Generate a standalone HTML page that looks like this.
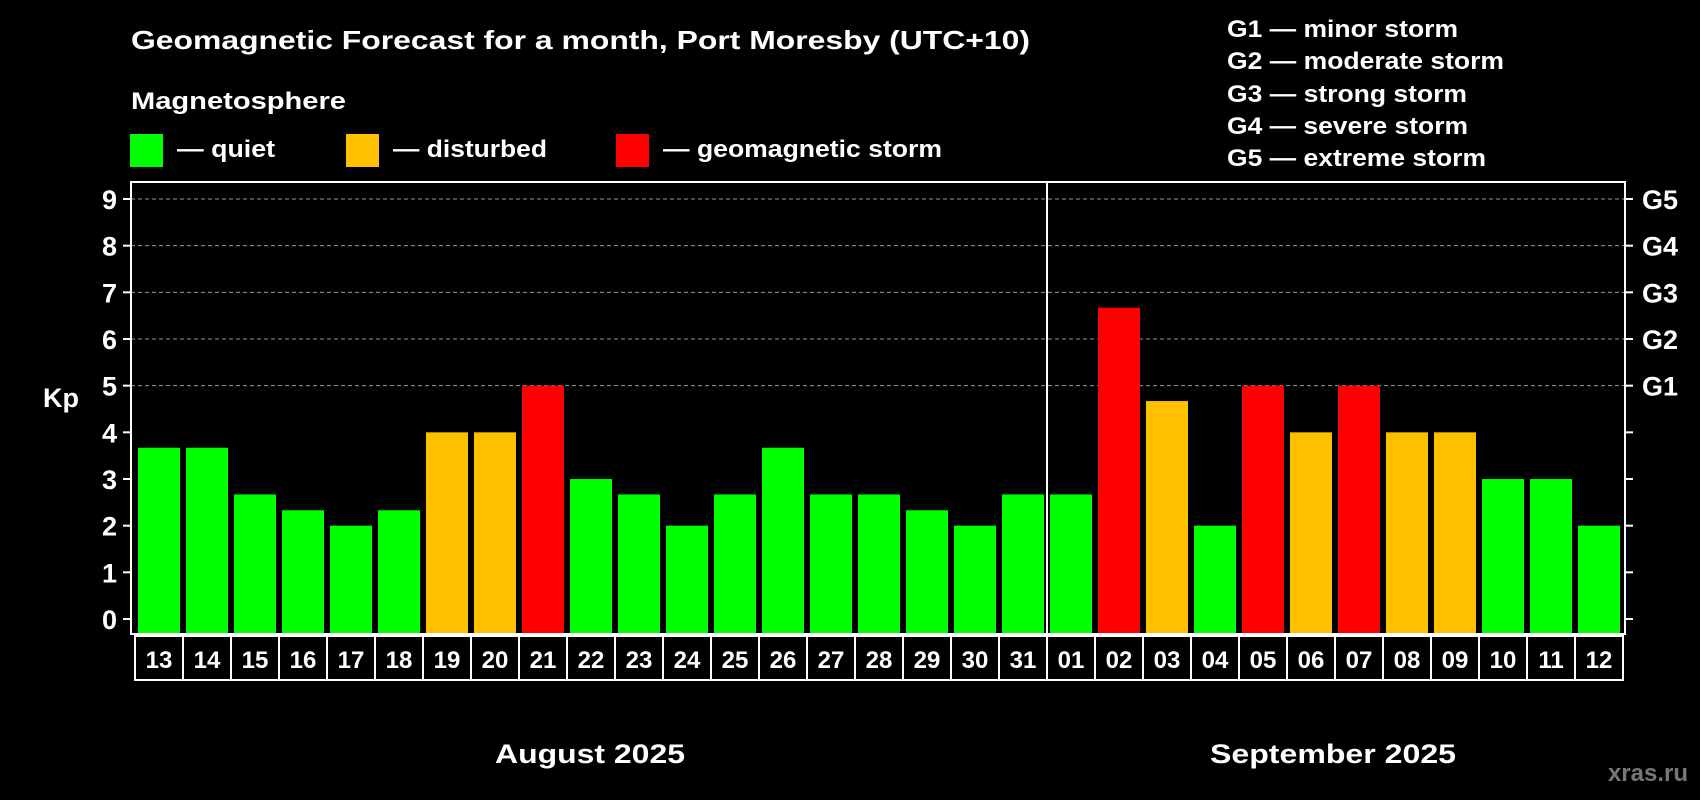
<!DOCTYPE html>
<html><head><meta charset="utf-8"><style>
html,body{margin:0;padding:0;background:#000;}
svg{display:block;font-family:"Liberation Sans",Arial,sans-serif;font-weight:bold;}
</style></head><body>
<svg id="chart" width="1700" height="800" viewBox="0 0 1700 800">
<rect x="0" y="0" width="1700" height="800" fill="#000"/>
<text x="131" y="49" fill="#fff" font-size="26" textLength="899" lengthAdjust="spacingAndGlyphs">Geomagnetic Forecast for a month, Port Moresby (UTC+10)</text>
<text x="131" y="109" fill="#fff" font-size="24" textLength="215" lengthAdjust="spacingAndGlyphs">Magnetosphere</text>
<g><rect x="130" y="134" width="33" height="33" fill="#00ff00"/><text x="177" y="157" fill="#fff" font-size="24" textLength="98" lengthAdjust="spacingAndGlyphs">— quiet</text></g>
<g><rect x="346" y="134" width="33" height="33" fill="#ffc000"/><text x="393" y="157" fill="#fff" font-size="24" textLength="154" lengthAdjust="spacingAndGlyphs">— disturbed</text></g>
<g><rect x="616" y="134" width="33" height="33" fill="#ff0000"/><text x="663" y="157" fill="#fff" font-size="24" textLength="279" lengthAdjust="spacingAndGlyphs">— geomagnetic storm</text></g>
<g fill="#fff" font-size="24" lengthAdjust="spacingAndGlyphs">
<text x="1227" y="37" textLength="231" lengthAdjust="spacingAndGlyphs">G1 — minor storm</text>
<text x="1227" y="69" textLength="277" lengthAdjust="spacingAndGlyphs">G2 — moderate storm</text>
<text x="1227" y="102" textLength="240" lengthAdjust="spacingAndGlyphs">G3 — strong storm</text>
<text x="1227" y="134" textLength="241" lengthAdjust="spacingAndGlyphs">G4 — severe storm</text>
<text x="1227" y="166" textLength="259" lengthAdjust="spacingAndGlyphs">G5 — extreme storm</text>
</g>
<text x="43" y="407" fill="#fff" font-size="27">Kp</text>
<g id="grid"></g>
<g id="bars"></g>
<rect x="131" y="182" width="1494" height="452" fill="none" stroke="#fff" stroke-width="2"/>
<line x1="1047" y1="182" x2="1047" y2="680" stroke="#fff" stroke-width="2"/>
<g id="axes"></g>
<text x="590" y="763" fill="#fff" font-size="27" text-anchor="middle" textLength="190" lengthAdjust="spacingAndGlyphs">August 2025</text>
<text x="1333" y="763" fill="#fff" font-size="27" text-anchor="middle" textLength="246" lengthAdjust="spacingAndGlyphs">September 2025</text>
<text x="1688" y="781" fill="#777" font-size="24" text-anchor="end">xras.ru</text>
</svg>
<script>
const days = ["13","14","15","16","17","18","19","20","21","22","23","24","25","26","27","28","29","30","31","01","02","03","04","05","06","07","08","09","10","11","12"];
const kpValues = [3.67,3.67,2.67,2.33,2,2.33,4,4,5,3,2.67,2,2.67,3.67,2.67,2.67,2.33,2,2.67,2.67,6.67,4.67,2,5,4,5,4,4,3,3,2];
const yTicks = [0,1,2,3,4,5,6,7,8,9];
const gLabels = ["G1","G2","G3","G4","G5"];
const NS="http://www.w3.org/2000/svg";
const y0=619, unit=(619-199)/9, plotBottom=634, plotLeft=131, plotRight=1625;
const yScale=v=>y0-v*unit;
const xScale=i=>138+i*48;
function mk(t,a,p){const e=document.createElementNS(NS,t);for(const k in a)e.setAttribute(k,a[k]);p.appendChild(e);return e;}
const grid=document.getElementById('grid'),bars=document.getElementById('bars'),axes=document.getElementById('axes');
yTicks.forEach(v=>{
  const y=yScale(v);
  if(v>=5){const l=mk('line',{x1:plotLeft,x2:plotRight,y1:y,y2:y,stroke:'#999','stroke-width':1,'stroke-dasharray':'4,3'},grid);
  
  }
  const t1=mk('line',{x1:plotLeft-8,x2:plotLeft,y1:y,y2:y,stroke:'#fff','stroke-width':2},axes);
  
  
  const t2=mk('line',{x1:plotRight,x2:plotRight+8,y1:y,y2:y,stroke:'#fff','stroke-width':2},axes);
  
  
  const tx=mk('text',{x:plotLeft-14,y:y+10,fill:'#fff','font-size':27,'text-anchor':'end'},axes);
  tx.textContent=v;
  
  
  if(v>=5){const g=mk('text',{x:plotRight+17,y:y+10,fill:'#fff','font-size':27},axes);
  g.textContent=gLabels[v-5];
  
  }
});
kpValues.forEach((v,i)=>{
  const c=v>=5?'#ff0000':(v>=4?'#ffc000':'#00ff00');
  const r=mk('rect',{x:xScale(i),y:yScale(v),width:42,height:plotBottom-yScale(v),fill:c},bars);
  
  
  const b=mk('rect',{x:xScale(i)-3,y:636,width:48,height:44,fill:'none',stroke:'#fff','stroke-width':2},axes);
  
  
  const t=mk('text',{x:xScale(i)+21,y:668,fill:'#fff','font-size':24,'text-anchor':'middle'},axes);
  t.textContent=days[i];
  
  
});
</script>
</body></html>
